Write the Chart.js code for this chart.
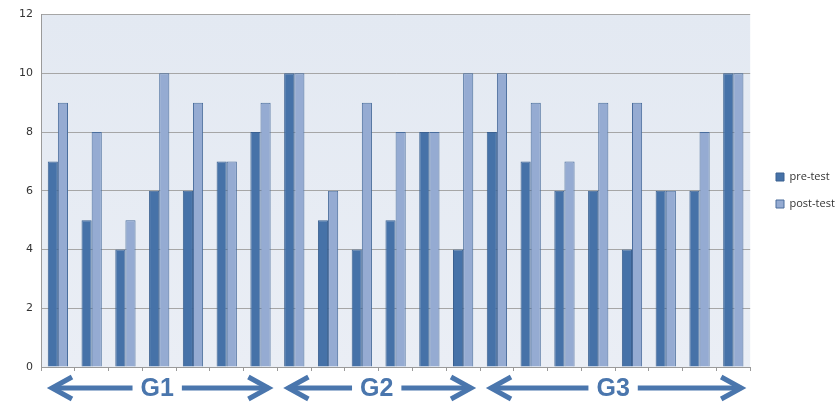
<!DOCTYPE html>
<html>
<head>
<meta charset="utf-8">
<script src="https://cdn.jsdelivr.net/npm/chart.js@4/dist/chart.umd.min.js"></script>
<style>
  html, body { margin: 0; padding: 0; background: #ffffff; }
  #wrap { width: 840px; height: 405px; }
</style>
</head>
<body>
<div id="wrap"><canvas id="c" width="840" height="405"></canvas></div>
<script>
// Scores per student, grouped G1 (7), G2 (6), G3 (8)
const students = ['1','2','3','4','5','6','7','8','9','10','11','12','13','14','15','16','17','18','19','20','21'];
const preTest  = [7, 5, 4, 6, 6, 7, 8, 10, 5, 4, 5, 8, 4, 8, 7, 6, 6, 4, 6, 6, 10];
const postTest = [9, 8, 5, 10, 9, 7, 9, 10, 6, 9, 8, 8, 10, 10, 9, 7, 9, 9, 6, 8, 10];
const groupNames = ['G1', 'G2', 'G3'];
const groupSpans = [[0, 6], [7, 12], [13, 20]];
const yTicks = [0, 2, 4, 6, 8, 10, 12];

const ARROW_BLUE = '#4a76ad';
const LEGEND_PAD = 16;

// Light panel behind the bars
const plotBackground = {
  id: 'plotBackground',
  beforeDraw(chart) {
    const { ctx, chartArea: a } = chart;
    ctx.save();
    const g = ctx.createLinearGradient(0, a.top, 0, a.bottom);
    g.addColorStop(0, '#e3e9f2');
    g.addColorStop(1, '#eaeef5');
    ctx.fillStyle = g;
    ctx.fillRect(a.left, a.top, a.right - a.left, a.bottom - a.top);
    ctx.restore();
  }
};

// Place the legend block a little right of and above its default slot
const legendNudge = {
  id: 'legendNudge',
  afterLayout(chart) {
    const l = chart.legend;
    if (!l) return;
    const dx = 776 - LEGEND_PAD - l.left;
    l.left += dx; l.right += dx;
    l.top -= 19; l.bottom -= 19;
  }
};

// Double-headed arrows with group names under the category axis
const groupArrows = {
  id: 'groupArrows',
  afterDraw(chart) {
    const { ctx } = chart;
    const x = chart.scales.x;
    const half = (x.getPixelForValue(1) - x.getPixelForValue(0)) / 2;
    const y = 388;
    ctx.save();
    ctx.strokeStyle = ARROW_BLUE;
    ctx.fillStyle = ARROW_BLUE;
    ctx.lineWidth = 5;
    ctx.lineCap = 'butt';
    ctx.lineJoin = 'miter';
    ctx.font = 'bold 25px "Liberation Sans", Arial, sans-serif';
    ctx.textAlign = 'center';
    ctx.textBaseline = 'middle';
    groupSpans.forEach(([s, e], i) => {
      const x0 = x.getPixelForValue(s) - half + 9;
      const x1 = x.getPixelForValue(e) + half - 7;
      const cx = (x0 + x1) / 2 - 3;
      const tw = ctx.measureText(groupNames[i]).width;
      const gap = tw / 2 + 8;
      // shafts
      ctx.beginPath();
      ctx.moveTo(x0 + 2, y);
      ctx.lineTo(cx - gap, y);
      ctx.moveTo(cx + gap, y);
      ctx.lineTo(x1 - 2, y);
      ctx.stroke();
      // heads
      ctx.beginPath();
      ctx.moveTo(x0 + 22, y - 11);
      ctx.lineTo(x0 + 2, y);
      ctx.lineTo(x0 + 22, y + 11);
      ctx.moveTo(x1 - 22, y - 11);
      ctx.lineTo(x1 - 2, y);
      ctx.lineTo(x1 - 22, y + 11);
      ctx.stroke();
      ctx.fillText(groupNames[i], cx, y + 1);
    });
    ctx.restore();
  }
};

new Chart(document.getElementById('c'), {
  type: 'bar',
  data: {
    labels: students,
    datasets: [
      {
        label: 'pre-test',
        data: preTest,
        backgroundColor: '#4672a8',
        borderColor: '#3a6090',
        borderWidth: 1,
        borderSkipped: 'bottom'
      },
      {
        label: 'post-test',
        data: postTest,
        backgroundColor: '#95abd2',
        borderColor: '#4a6d9c',
        borderWidth: 1,
        borderSkipped: 'bottom'
      }
    ]
  },
  options: {
    responsive: false,
    animation: false,
    devicePixelRatio: 1,
    layout: { padding: { top: 14, right: 5, left: 0, bottom: 0 } },
    datasets: {
      bar: { categoryPercentage: 0.6, barPercentage: 1.0 }
    },
    plugins: {
      legend: {
        position: 'right',
        align: 'center',
        labels: {
          boxWidth: 8,
          boxHeight: 8,
          padding: LEGEND_PAD,
          color: '#333333',
          font: { family: '"Open Sans", sans-serif', size: 11 }
        }
      },
      tooltip: { enabled: false }
    },
    scales: {
      x: {
        offset: true,
        ticks: { display: false },
        grid: {
          offset: true,
          drawOnChartArea: false,
          drawTicks: true,
          tickLength: 4,
          color: '#9a9a9a'
        },
        border: { color: '#9a9a9a' },
        afterFit(scale) { scale.height = 38; }
      },
      y: {
        min: 0,
        max: 12,
        afterBuildTicks(scale) { scale.ticks = yTicks.map(v => ({ value: v })); },
        ticks: {
          color: '#333333',
          padding: 8,
          font: { family: '"DejaVu Sans", sans-serif', size: 11 }
        },
        grid: { color: '#a6a6a6', drawTicks: false, lineWidth: 1 },
        border: { color: '#9a9a9a' },
        afterFit(scale) { scale.width = 41; }
      }
    }
  },
  plugins: [plotBackground, groupArrows, legendNudge]
});
</script>
</body>
</html>
